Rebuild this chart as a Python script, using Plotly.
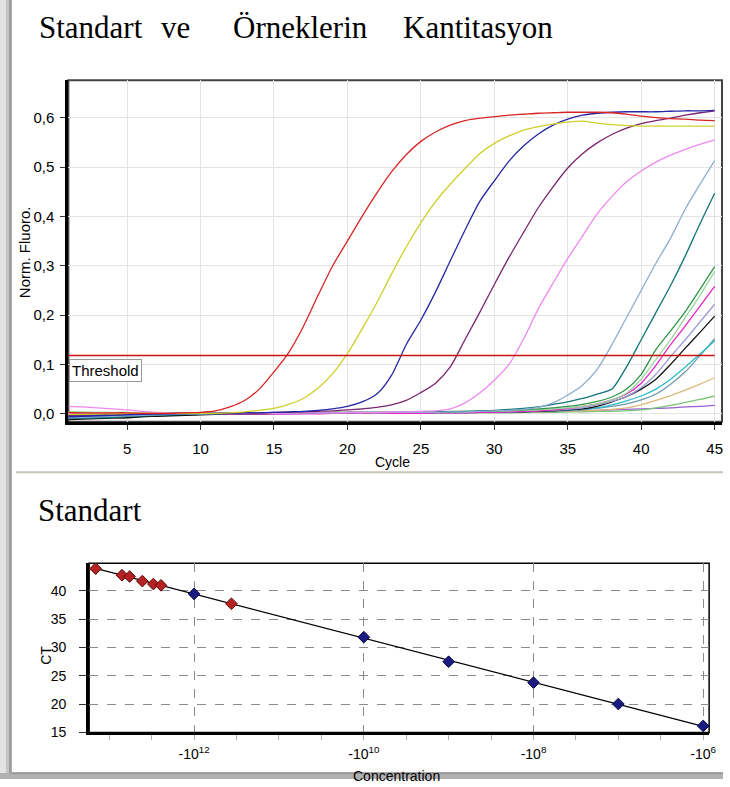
import plotly.graph_objects as go

# ---------------- data: amplification curves (Norm. Fluoro. per cycle) ----------------
cycles = list(range(1, 46))
threshold = 0.118

red = [0.003,0.002,0.002,0.002,0.002,0.001,0.001,0.001,0.002,0.003,
       0.006,0.014,0.027,0.05,0.085,0.124,0.177,0.24,0.3,0.35,
       0.4,0.447,0.49,0.525,0.552,0.571,0.585,0.594,0.599,0.602,
       0.605,0.607,0.609,0.61,0.611,0.611,0.611,0.61,0.607,0.603,
       0.6,0.598,0.597,0.595,0.594]
yellow = [-0.001,-0.001,0.0,0.0,0.001,0.001,0.001,0.001,0.001,0.001,
          0.001,0.002,0.004,0.007,0.011,0.019,0.031,0.052,0.082,0.122,
          0.172,0.225,0.283,0.338,0.387,0.43,0.465,0.497,0.527,0.548,
          0.563,0.575,0.582,0.587,0.591,0.593,0.589,0.586,0.584,0.583,
          0.583,0.583,0.583,0.583,0.583]
navy = [-0.006,-0.005,-0.004,-0.003,-0.002,-0.001,0.0,0.0,0.001,0.001,
        0.001,0.001,0.002,0.002,0.003,0.004,0.005,0.007,0.01,0.015,
        0.024,0.04,0.078,0.14,0.19,0.247,0.31,0.372,0.43,0.472,
        0.512,0.543,0.567,0.585,0.597,0.605,0.609,0.611,0.612,0.612,
        0.612,0.613,0.614,0.614,0.615]
plum = [-0.004,-0.004,-0.003,-0.002,-0.001,0.0,0.0,0.001,0.001,0.001,
        0.001,0.002,0.002,0.002,0.003,0.003,0.004,0.005,0.006,0.008,
        0.01,0.013,0.018,0.027,0.043,0.062,0.095,0.15,0.205,0.262,
        0.317,0.368,0.418,0.46,0.498,0.527,0.549,0.566,0.579,0.588,
        0.594,0.599,0.605,0.61,0.614]
violet = [0.015,0.014,0.012,0.01,0.008,0.005,0.003,0.002,0.002,0.002,
          0.001,0.001,0.001,0.001,0.001,0.002,0.002,0.002,0.002,0.003,
          0.003,0.003,0.004,0.004,0.005,0.006,0.01,0.022,0.042,0.068,
          0.1,0.152,0.213,0.265,0.315,0.36,0.405,0.44,0.47,0.492,
          0.51,0.524,0.536,0.546,0.555]
steel = [-0.008,-0.007,-0.006,-0.005,-0.004,-0.003,-0.002,-0.001,0.0,0.0,
         0.001,0.001,0.001,0.001,0.001,0.001,0.002,0.002,0.002,0.002,
         0.002,0.002,0.003,0.003,0.003,0.003,0.004,0.004,0.005,0.006,
         0.007,0.009,0.013,0.022,0.038,0.058,0.09,0.14,0.195,0.25,
         0.305,0.356,0.415,0.465,0.513]
teal = [-0.01,-0.009,-0.008,-0.007,-0.005,-0.004,-0.003,-0.002,-0.001,0.0,
        0.0,0.001,0.001,0.001,0.001,0.002,0.002,0.002,0.002,0.003,
        0.003,0.003,0.003,0.004,0.004,0.004,0.005,0.005,0.006,0.007,
        0.009,0.011,0.014,0.019,0.024,0.031,0.04,0.05,0.095,0.15,
        0.205,0.26,0.32,0.385,0.447]
green = [-0.004,-0.004,-0.003,-0.003,-0.002,-0.002,-0.001,-0.001,0.0,0.0,
         0.001,0.001,0.001,0.001,0.002,0.002,0.002,0.002,0.003,0.003,
         0.003,0.003,0.003,0.004,0.004,0.004,0.004,0.005,0.005,0.006,
         0.007,0.008,0.01,0.012,0.015,0.019,0.025,0.034,0.05,0.08,
         0.13,0.168,0.207,0.252,0.298]
lightgreen = [0.004,0.004,0.003,0.003,0.003,0.002,0.002,0.002,0.002,0.002,
              0.002,0.002,0.002,0.002,0.002,0.003,0.003,0.003,0.003,0.003,
              0.003,0.003,0.003,0.003,0.004,0.004,0.004,0.004,0.005,0.005,
              0.006,0.007,0.008,0.01,0.012,0.015,0.02,0.028,0.042,0.07,
              0.11,0.15,0.195,0.24,0.288]
magenta = [0.0,0.0,0.001,0.001,0.001,0.001,0.001,0.001,0.001,0.001,
           0.0,0.0,0.0,0.0,0.0,0.0,0.0,0.0,0.001,0.001,
           0.001,0.001,0.001,0.001,0.001,0.002,0.002,0.002,0.003,0.003,
           0.004,0.005,0.006,0.008,0.011,0.015,0.02,0.028,0.04,0.062,
           0.098,0.14,0.178,0.218,0.258]
lavender = [-0.002,-0.002,-0.002,-0.001,-0.001,-0.001,0.0,0.0,0.0,0.0,
            0.001,0.001,0.001,0.001,0.001,0.001,0.001,0.002,0.002,0.002,
            0.002,0.002,0.002,0.002,0.003,0.003,0.003,0.003,0.003,0.004,
            0.004,0.005,0.006,0.007,0.009,0.012,0.018,0.025,0.035,0.053,
            0.08,0.116,0.15,0.186,0.222]
black = [-0.012,-0.011,-0.01,-0.009,-0.008,-0.006,-0.005,-0.004,-0.003,-0.002,
         -0.001,0.0,0.0,0.0,0.001,0.001,0.001,0.001,0.001,0.002,
         0.002,0.002,0.002,0.002,0.002,0.003,0.003,0.003,0.003,0.003,
         0.004,0.004,0.005,0.006,0.008,0.01,0.015,0.024,0.035,0.05,
         0.07,0.1,0.133,0.165,0.198]
cyan = [-0.006,-0.006,-0.005,-0.005,-0.004,-0.003,-0.002,-0.002,-0.001,-0.001,
        0.0,0.0,0.0,0.001,0.001,0.001,0.001,0.001,0.001,0.002,
        0.002,0.002,0.002,0.002,0.002,0.003,0.003,0.003,0.003,0.004,
        0.004,0.005,0.006,0.007,0.008,0.01,0.012,0.018,0.026,0.036,
        0.05,0.07,0.095,0.121,0.148]
slate = [-0.01,-0.009,-0.008,-0.007,-0.006,-0.005,-0.004,-0.003,-0.002,-0.001,
         -0.001,0.0,0.0,0.0,0.0,0.001,0.001,0.001,0.001,0.001,
         0.001,0.001,0.002,0.002,0.002,0.002,0.002,0.002,0.003,0.003,
         0.003,0.004,0.004,0.005,0.006,0.008,0.011,0.015,0.02,0.028,
         0.04,0.06,0.085,0.118,0.152]
tan = [0.002,0.002,0.002,0.002,0.002,0.002,0.002,0.002,0.002,0.002,
       0.002,0.002,0.002,0.002,0.002,0.002,0.002,0.002,0.002,0.002,
       0.002,0.002,0.002,0.003,0.003,0.003,0.003,0.003,0.003,0.003,
       0.004,0.004,0.004,0.005,0.005,0.006,0.007,0.009,0.012,0.018,
       0.027,0.037,0.048,0.06,0.073]
green2 = [0.001,0.001,0.001,0.001,0.001,0.001,0.001,0.001,0.001,0.001,
          0.001,0.001,0.001,0.001,0.001,0.001,0.001,0.001,0.001,0.001,
          0.001,0.001,0.001,0.002,0.002,0.002,0.002,0.002,0.002,0.002,
          0.002,0.003,0.003,0.003,0.004,0.004,0.005,0.005,0.006,0.008,
          0.012,0.017,0.023,0.029,0.036]
mpurple = [-0.004,-0.004,-0.004,-0.003,-0.003,-0.003,-0.002,-0.002,-0.002,-0.001,
           -0.001,-0.001,0.0,0.0,0.0,0.0,0.001,0.001,0.001,0.001,
           0.001,0.001,0.001,0.002,0.002,0.002,0.002,0.002,0.003,0.003,
           0.003,0.004,0.004,0.004,0.005,0.006,0.007,0.008,0.009,0.01,
           0.011,0.012,0.014,0.015,0.017]

curves = [
    (mpurple, "#9a5fd0"), (green2, "#7cc47c"), (tan, "#dcb97a"),
    (slate, "#6f9aa8"), (cyan, "#2cbccc"), (black, "#111111"),
    (lavender, "#9c9cd8"), (magenta, "#e824c8"), (lightgreen, "#9ad89a"),
    (green, "#2f9447"), (teal, "#137575"), (steel, "#8eaed2"),
    (violet, "#ee88ee"), (plum, "#7a2470"), (navy, "#2626a6"),
    (yellow, "#cfcf2a"), (red, "#d82424"),
]

# ---------------- data: standard curve ----------------
std_log_conc = [-12, -10, -9, -8, -7, -6]
std_ct = [39.48, 31.84, 27.5, 23.8, 20.03, 16.16]
smp_log_conc = [-13.16, -12.85, -12.76, -12.61, -12.48, -12.39, -11.56]
smp_ct = [43.94, 42.78, 42.55, 41.74, 41.22, 40.99, 37.74]
conc_tickvals = [-12, -10, -8, -6]
conc_ticktext = ["-10<sup>12</sup>", "-10<sup>10</sup>", "-10<sup>8</sup>", "-10<sup>6</sup>"]

# linear fit of standards
n = len(std_log_conc)
mx = sum(std_log_conc) / n
my = sum(std_ct) / n
sxx = sum((x - mx) ** 2 for x in std_log_conc)
sxy = sum((x - mx) * (y - my) for x, y in zip(std_log_conc, std_ct))
slope = sxy / sxx
icpt = my - slope * mx
fit_x = [min(smp_log_conc + std_log_conc), max(smp_log_conc + std_log_conc)]
fit_y = [slope * x + icpt for x in fit_x]

W, H = 730, 787
def px(x): return x / W
def py(y): return 1 - y / H

fig = go.Figure()
for vals, col in curves:
    fig.add_trace(go.Scatter(x=cycles, y=vals, mode="lines",
                             line=dict(color=col, width=1.3, shape="spline", smoothing=0.7),
                             showlegend=False, xaxis="x", yaxis="y", hoverinfo="skip"))
fig.add_trace(go.Scatter(x=[cycles[0], cycles[-1]], y=[threshold, threshold], mode="lines",
                         line=dict(color="#cc1111", width=1.5), showlegend=False,
                         xaxis="x", yaxis="y"))

fig.add_trace(go.Scatter(x=fit_x, y=fit_y, mode="lines", line=dict(color="black", width=1.3),
                         showlegend=False, xaxis="x2", yaxis="y2"))
fig.add_trace(go.Scatter(x=smp_log_conc, y=smp_ct, mode="markers",
                         marker=dict(symbol="diamond", size=9, color="#b42222",
                                     line=dict(color="#5a0a0a", width=1)),
                         showlegend=False, xaxis="x2", yaxis="y2"))
fig.add_trace(go.Scatter(x=std_log_conc, y=std_ct, mode="markers",
                         marker=dict(symbol="diamond", size=9, color="#1a1a82",
                                     line=dict(color="#0a0a40", width=1)),
                         showlegend=False, xaxis="x2", yaxis="y2"))

sans = "Liberation Sans, Arial, sans-serif"
serif = "Liberation Serif, Times New Roman, serif"

top_x = [px(69), px(729)]
top_y = [py(426), py(81)]
bot_x = [px(90), px(716)]
bot_y = [py(740), py(569)]

fig.update_layout(
    width=W, height=H, margin=dict(l=0, r=0, t=0, b=0),
    paper_bgcolor="white", plot_bgcolor="white", separators=",.",
    font=dict(family=sans, size=15, color="black"),
    xaxis=dict(domain=top_x, range=[1.0, 45.5], tickvals=[5,10,15,20,25,30,35,40,45],
               showgrid=True, gridcolor="#e4e4e4", gridwidth=1, zeroline=False,
               showline=True, linecolor="black", linewidth=3,
               ticks="outside", ticklen=5, tickcolor="#333", ticklabelstandoff=6,
               tickfont=dict(size=15), anchor="y"),
    yaxis=dict(domain=top_y, range=[-0.016, 0.676], tickvals=[0,0.1,0.2,0.3,0.4,0.5,0.6],
               tickformat=".1f", showgrid=True, gridcolor="#e4e4e4", gridwidth=1,
               zeroline=False, showline=True, linecolor="black", linewidth=3,
               ticks="outside", ticklen=5, tickcolor="#333", ticklabelstandoff=3,
               tickfont=dict(size=15), anchor="x"),
    xaxis2=dict(domain=bot_x, range=[-13.237, -5.93], tickvals=conc_tickvals,
                ticktext=conc_ticktext, showgrid=True, gridcolor="#8a8a8a",
                griddash="dash", gridwidth=1, zeroline=False,
                showline=True, linecolor="black", linewidth=3,
                ticks="outside", ticklen=5, tickcolor="#aaa", ticklabelstandoff=2,
                minor=dict(dtick=0.5, tick0=-12, ticks="outside", ticklen=5, tickcolor="#aaa",
                           showgrid=False),
                tickfont=dict(size=14), anchor="y2"),
    yaxis2=dict(domain=bot_y, range=[15, 44.9], tickvals=[15,20,25,30,35,40],
                showgrid=True, gridcolor="#8a8a8a", griddash="dash", gridwidth=1,
                zeroline=False, showline=True, linecolor="black", linewidth=3,
                ticks="outside", ticklen=7, tickcolor="#333", ticklabelstandoff=10,
                tickfont=dict(size=14), anchor="x2"),
)

shapes = [
    dict(type="rect", xref="paper", yref="paper", x0=top_x[0], x1=top_x[1], y0=top_y[0], y1=top_y[1],
         line=dict(color="#444", width=2), layer="below"),
    dict(type="rect", xref="paper", yref="paper", x0=bot_x[0], x1=bot_x[1], y0=bot_y[0], y1=bot_y[1],
         line=dict(color="black", width=1.5), layer="below"),
    dict(type="line", xref="paper", yref="paper", x0=px(16), x1=1, y0=py(477), y1=py(477),
         line=dict(color="#c9c5b9", width=2)),
    dict(type="rect", xref="paper", yref="paper", x0=0, x1=px(6), y0=0, y1=1,
         line=dict(width=0), fillcolor="#e2e2e2"),
    dict(type="rect", xref="paper", yref="paper", x0=px(6), x1=px(9), y0=0, y1=1,
         line=dict(width=0), fillcolor="#c4c4c4"),
    dict(type="rect", xref="paper", yref="paper", x0=px(9), x1=px(12), y0=0, y1=1,
         line=dict(width=0), fillcolor="#9e9e9e"),
    dict(type="rect", xref="paper", yref="paper", x0=0, x1=1, y0=0, y1=py(781),
         line=dict(width=0), fillcolor="#b0b0b0"),
    dict(type="line", xref="paper", yref="paper", x0=px(12), x1=1, y0=py(781), y1=py(781),
         line=dict(color="#8a8a8a", width=1.5)),
]
fig.update_layout(shapes=shapes)

ann = []
for word, x0 in [("Standart", 37), ("ve", 161), ("Örneklerin", 233), ("Kantitasyon", 405)]:
    ann.append(dict(text=word, xref="paper", yref="paper", x=px(x0), y=py(28),
                    xanchor="left", yanchor="middle", showarrow=False,
                    font=dict(family=serif, size=31, color="black")))
ann.append(dict(text="Standart", xref="paper", yref="paper", x=px(36), y=py(516),
                xanchor="left", yanchor="middle", showarrow=False,
                font=dict(family=serif, size=31, color="black")))
ann.append(dict(text="Cycle", xref="paper", yref="paper", x=px(396), y=py(467),
                xanchor="center", yanchor="middle", showarrow=False, font=dict(size=14)))
ann.append(dict(text="Norm. Fluoro.", xref="paper", yref="paper", x=px(25), y=py(255),
                xanchor="center", yanchor="middle", textangle=-90, showarrow=False,
                font=dict(size=15)))
ann.append(dict(text="CT", xref="paper", yref="paper", x=px(47), y=py(662),
                xanchor="center", yanchor="middle", textangle=-90, showarrow=False,
                font=dict(size=14)))
ann.append(dict(text="Concentration", xref="paper", yref="paper", x=px(400), y=py(774),
                xanchor="center", yanchor="top", showarrow=False, font=dict(size=14)))
ann.append(dict(text="Threshold", xref="x", yref="y", x=cycles[0], y=threshold,
                xanchor="left", yanchor="top", yshift=-3, xshift=1, showarrow=False,
                bgcolor="white", bordercolor="#999", borderwidth=1, borderpad=2,
                font=dict(size=15)))
fig.update_layout(annotations=ann)

fig.write_html("out.html", config={"displayModeBar": False},
               post_script="document.body.style.margin='0';document.body.style.overflow='hidden';")
